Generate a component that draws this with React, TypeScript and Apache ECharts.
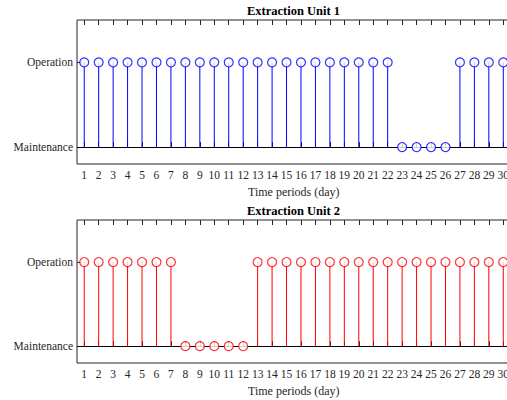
import React, { useEffect, useRef } from "react";
import * as echarts from "echarts";

const days = Array.from({ length: 30 }, (_, i) => String(i + 1));
const unit1 = [1, 1, 1, 1, 1, 1, 1, 1, 1, 1, 1, 1, 1, 1, 1, 1, 1, 1, 1, 1, 1, 1, 0, 0, 0, 0, 1, 1, 1, 1];
const unit2 = [1, 1, 1, 1, 1, 1, 1, 0, 0, 0, 0, 0, 1, 1, 1, 1, 1, 1, 1, 1, 1, 1, 1, 1, 1, 1, 1, 1, 1, 1];
const stateLabels = ["Maintenance", "Operation"];
const titles = ["Extraction Unit 1", "Extraction Unit 2"];
const xName = "Time periods (day)";
const colors = ["#0000ff", "#ff0000"];

const FONT = '"Liberation Serif", "Times New Roman", serif';
const TXT = "#262626";

export default function App() {
  const ref = useRef<HTMLDivElement>(null);
  useEffect(() => {
    if (!ref.current) return;
    const chart = echarts.init(ref.current, undefined, { renderer: "svg" });
    const grids = [
      { left: 77, top: 20, height: 144, width: 433.5 },
      { left: 77, top: 220, height: 143, width: 433.5 },
    ];
    const xAxes: any[] = [];
    const yAxes: any[] = [];
    const series: any[] = [];
    const datas = [unit1, unit2];
    grids.forEach((g, i) => {
      xAxes.push({
        type: "category",
        gridIndex: i,
        data: days,
        boundaryGap: true,
        position: "bottom",
        name: xName,
        nameLocation: "middle",
        nameGap: 22,
        nameTextStyle: { fontFamily: FONT, fontSize: 12, color: TXT },
        axisLine: { show: false },
        axisTick: { show: true, inside: true, alignWithLabel: true, interval: 0, length: 5, lineStyle: { color: TXT } },
        axisLabel: { fontFamily: FONT, fontSize: 11.5, color: TXT, margin: 5, interval: 0 },
        splitLine: { show: false },
      });
      xAxes.push({
        type: "category",
        gridIndex: i,
        data: days,
        boundaryGap: true,
        position: "top",
        axisLine: { show: false },
        axisTick: { show: true, inside: true, alignWithLabel: true, length: 5, interval: 0, lineStyle: { color: TXT } },
        axisLabel: { show: false },
        splitLine: { show: false },
      });
      yAxes.push({
        type: "value",
        gridIndex: i,
        min: -0.2,
        max: 1.5,
        axisLine: { show: false },
        splitLine: { show: false },
        axisTick: { show: true, inside: true, length: 5, customValues: [0, 1], lineStyle: { color: TXT } },
        axisLabel: {
          customValues: [0, 1],
          fontFamily: FONT,
          fontSize: 11.5,
          color: TXT,
          margin: 4,
          formatter: (v: number) => stateLabels[Math.round(v)] ?? "",
        },
      });
      series.push({
        type: "bar",
        xAxisIndex: i * 2,
        yAxisIndex: i,
        data: datas[i],
        barWidth: 1,
        itemStyle: { color: colors[i] },
        z: 2,
        markLine: {
          silent: true,
          symbol: "none",
          label: { show: false },
          lineStyle: { color: "#000", width: 1, type: "solid" },
          data: [{ yAxis: 0 }],
          z: 1,
        },
      });
      series.push({
        type: "scatter",
        xAxisIndex: i * 2,
        yAxisIndex: i,
        data: datas[i],
        symbol: "circle",
        symbolSize: 9,
        itemStyle: { color: "#fff", borderColor: colors[i], borderWidth: 1.2 },
        z: 5,
      });
    });
    chart.setOption({
      animation: false,
      textStyle: { fontFamily: FONT },
      grid: grids.map((g) => ({
        ...g,
        show: true,
        containLabel: false,
        outerBoundsMode: "none",
        borderColor: TXT,
        borderWidth: 1,
        backgroundColor: "#fff",
      })),
      xAxis: xAxes,
      yAxis: yAxes,
      series,
      graphic: titles.map((t, i) => ({
        type: "text",
        x: 293.5,
        y: i === 0 ? 11 : 211,
        style: {
          text: t,
          fontFamily: FONT,
          fontWeight: "bold",
          fontSize: 12.5,
          fill: "#000",
          align: "center",
          verticalAlign: "middle",
        },
      })),
    });
    return () => chart.dispose();
  }, []);
  return (
    <div
      ref={ref}
      style={{ position: "fixed", left: 0, top: 0, width: 507, height: 400, background: "#fff" }}
    />
  );
}
